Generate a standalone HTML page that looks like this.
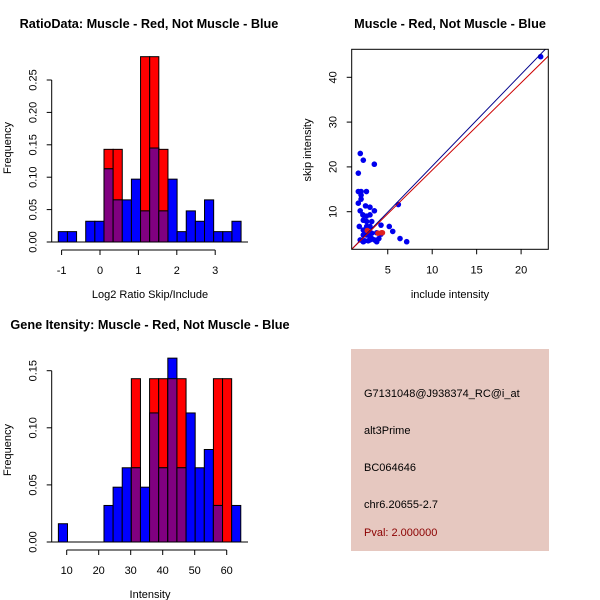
<!DOCTYPE html>
<html><head><meta charset="utf-8">
<style>
html,body{margin:0;padding:0;background:#fff;}
svg{display:block;font-family:"Liberation Sans",Arial,sans-serif;}
</style></head>
<body>
<svg id="chart" width="600" height="600" viewBox="0 0 600 600" xmlns="http://www.w3.org/2000/svg">
<rect x="0" y="0" width="600" height="600" fill="#fff"/>
<g id="info">
<rect x="351" y="349" width="198" height="202" fill="#e6c8c0"/>
<text x="364" y="397" font-size="11" fill="#000">G7131048@J938374_RC@i_at</text>
<text x="364" y="434" font-size="11" fill="#000">alt3Prime</text>
<text x="364" y="471" font-size="11" fill="#000">BC064646</text>
<text x="364" y="508" font-size="11" fill="#000">chr6.20655-2.7</text>
<text x="364" y="536" font-size="11" fill="#8b0000">Pval: 2.000000</text>
</g>
</svg>
<script>
// ---- Histogram 1 (log2 ratio) data ----
const ratioBinStart = -1.086;
const ratioBinWidth = 0.238;
const ratioBlue = [0.016,0.016,0,0.032,0.032,0.113,0.065,0.065,0.097,0.048,0.145,0.048,0.097,0.016,0.048,0.032,0.065,0.016,0.016,0.032];
const ratioRed  = [0,0,0,0,0,0.143,0.143,0,0,0.286,0.286,0.143,0,0,0,0,0,0,0,0];
const ratioXTicks = [-1,0,1,2,3];
const ratioYTicks = [0,0.05,0.10,0.15,0.20,0.25];
const ratioYLabels = ["0.00","0.05","0.10","0.15","0.20","0.25"];
// ---- Histogram 2 (intensity) data ----
const intBinStart = 7.4;
const intBinWidth = 2.85;
const intBlue = [0.016,0,0,0,0,0.032,0.048,0.065,0.065,0.048,0.113,0.065,0.161,0.065,0.113,0.065,0.081,0.032,0,0.032];
const intRed  = [0,0,0,0,0,0,0,0,0.143,0,0.143,0.143,0.143,0.143,0,0,0,0.143,0.143,0];
const intXTicks = [10,20,30,40,50,60];
const intYTicks = [0,0.05,0.10,0.15];
const intYLabels = ["0.00","0.05","0.10","0.15"];
// ---- Scatter data ----
const scatterBlueX = [1.91,2.25,3.49,1.69,1.69,2.0,2.6,2.0,2.0,1.69,1.9,2.5,3.0,3.5,2.2,2.6,3.0,2.25,2.63,3.2,1.8,2.25,2.63,3.0,2.25,2.63,3.2,3.76,4.24,1.9,2.4,3.0,3.5,3.76,2.25,2.8,3.2,4.24,5.17,5.56,6.38,7.13,6.19,22.2,4.0,3.0,2.63];
const scatterBlueY = [23.0,21.5,20.6,18.6,14.5,14.5,14.5,13.7,12.8,11.9,10.2,11.3,11.0,10.2,9.3,9.0,9.3,8.1,7.8,7.8,6.7,5.9,6.7,6.7,4.8,4.8,5.2,5.3,5.0,3.7,3.5,3.7,3.7,3.3,3.3,3.5,4.0,7.0,6.7,5.6,4.0,3.3,11.6,44.6,4.0,4.5,5.5];
const scatterRedX = [2.7,3.9,4.3,4.4];
const scatterRedY = [5.8,5.2,5.3,5.3];
const blueLine = [2.05,-0.33]; // slope, intercept
const redLine = [1.95,-0.23];
const scatXTicks = [5,10,15,20];
const scatYTicks = [10,20,30,40];

const NS = "http://www.w3.org/2000/svg";
const svg = document.getElementById('chart');
function mk(tag, attrs, parent){
  const e = document.createElementNS(NS, tag);
  for (const k in attrs) e.setAttribute(k, attrs[k]);
  (parent||svg).appendChild(e);
  return e;
}
function txt(s, x, y, size, opts, parent){
  const e = mk('text', Object.assign({x:x, y:y, 'font-size':size, 'text-anchor':'middle', fill:'#000'}, opts||{}), parent);
  e.textContent = s;
  return e;
}

function histogram(cfg){
  const g = mk('g', {});
  
  
  const X = v => cfg.x0 + (v - cfg.xv0) * cfg.xs;
  const Y = v => cfg.y0 - v * cfg.ys;
  cfg.blue.forEach((b, i) => {
    const r = cfg.red[i];
    const l = X(cfg.binStart + i*cfg.binWidth), rr = X(cfg.binStart + (i+1)*cfg.binWidth);
    if (r > 0) {
      const e = mk('rect', {x:l, y:Y(r), width:rr-l, height:Y(0)-Y(r), fill:'#ff0000', stroke:'#000', 'stroke-width':1}, g);
      
      
    }
    if (b > 0) {
      const e = mk('rect', {x:l, y:Y(b), width:rr-l, height:Y(0)-Y(b), fill:'#0000ff', stroke:'#000', 'stroke-width':1}, g);
      
      
    }
    const m = Math.min(b, r);
    if (m > 0) {
      const e = mk('rect', {x:l, y:Y(m), width:rr-l, height:Y(0)-Y(m), fill:'#800080', stroke:'#000', 'stroke-width':1}, g);
      
      
    }
  });
  mk('line', {x1:cfg.baseL, x2:cfg.baseR, y1:Y(0), y2:Y(0), stroke:'#000', 'stroke-width':1}, g);
  const ax = mk('g', {}, g);
  
  
  const xa = cfg.y0 + 8;
  mk('line', {x1:X(cfg.xTicks[0]), x2:X(cfg.xTicks[cfg.xTicks.length-1]), y1:xa, y2:xa, stroke:'#000'}, ax);
  cfg.xTicks.forEach(t => {
    mk('line', {x1:X(t), x2:X(t), y1:xa, y2:xa+5, stroke:'#000'}, ax);
    txt(String(t), X(t), xa+24, 11, {}, ax);
  });
  const ay = mk('g', {}, g);
  
  
  const yx = cfg.yAxisX;
  mk('line', {x1:yx, x2:yx, y1:Y(0), y2:Y(cfg.yTicks[cfg.yTicks.length-1]), stroke:'#000'}, ay);
  cfg.yTicks.forEach((t, i) => {
    mk('line', {x1:yx-5, x2:yx, y1:Y(t), y2:Y(t), stroke:'#000'}, ay);
    txt(cfg.yLabels[i], yx-15, Y(t), 11, {transform:`rotate(-90 ${yx-15} ${Y(t)})`}, ay);
  });
  const t1 = txt(cfg.title, cfg.titleX, cfg.titleY, 12.7, {'font-weight':'bold'}, g);
  
  
  const t2 = txt(cfg.xlab, 150, cfg.xlabY, 11, {}, g);
  
  
  const t3 = txt('Frequency', 11, cfg.ylabY, 11, {transform:`rotate(-90 11 ${cfg.ylabY})`}, g);
  
  
}

histogram({name:'ratio-histogram', x0:100, xv0:0, xs:38.4, y0:242, ys:648,
  binStart:ratioBinStart, binWidth:ratioBinWidth, blue:ratioBlue, red:ratioRed,
  baseL:50, baseR:248, xTicks:ratioXTicks, yTicks:ratioYTicks, yLabels:ratioYLabels,
  yAxisX:51.7, title:'RatioData: Muscle - Red, Not Muscle - Blue', titleX:149, titleY:28,
  xlab:'Log2 Ratio Skip/Include', xlabY:298, ylabY:148});

histogram({name:'intensity-histogram', x0:66.7, xv0:10, xs:3.2, y0:542, ys:1142,
  binStart:intBinStart, binWidth:intBinWidth, blue:intBlue, red:intRed,
  baseL:50, baseR:248, xTicks:intXTicks, yTicks:intYTicks, yLabels:intYLabels,
  yAxisX:51.7, title:'Gene Itensity: Muscle - Red, Not Muscle - Blue', titleX:150, titleY:329,
  xlab:'Intensity', xlabY:598, ylabY:450});

(function(){
  const g = mk('g', {});
  
  
  const L=351.7, R=548.3, T=49.3, B=249.3;
  const X = v => 343.3 + v*8.89;
  const Y = v => 256.5 - v*4.48;
  const cp = mk('clipPath', {id:'sc'}, g);
  mk('rect', {x:L, y:T, width:R-L, height:B-T}, cp);
  scatterBlueX.forEach((x, i) => {
    const c = mk('circle', {cx:X(x), cy:Y(scatterBlueY[i]), r:2.8, fill:'#0000ee'}, g);
    
    
  });
  scatterRedX.forEach((x, i) => {
    const c = mk('circle', {cx:X(x), cy:Y(scatterRedY[i]), r:2.8, fill:'#dd2020'}, g);
    
    
  });
  const xa=0.5, xb=24;
  const bl = mk('line', {x1:X(xa), y1:Y(blueLine[0]*xa+blueLine[1]), x2:X(xb), y2:Y(blueLine[0]*xb+blueLine[1]), stroke:'#00008b', 'stroke-width':1, 'clip-path':'url(#sc)'}, g);
  
  
  const rl = mk('line', {x1:X(xa), y1:Y(redLine[0]*xa+redLine[1]), x2:X(xb), y2:Y(redLine[0]*xb+redLine[1]), stroke:'#cc0000', 'stroke-width':1, 'clip-path':'url(#sc)'}, g);
  
  
  const box = mk('rect', {x:L, y:T, width:R-L, height:B-T, fill:'none', stroke:'#000'}, g);
  
  
  scatXTicks.forEach(t => {
    mk('line', {x1:X(t), x2:X(t), y1:B, y2:B+5, stroke:'#000'}, g);
    txt(String(t), X(t), B+24, 11, {}, g);
  });
  scatYTicks.forEach(t => {
    mk('line', {x1:L-5, x2:L, y1:Y(t), y2:Y(t), stroke:'#000'}, g);
    txt(String(t), L-15, Y(t), 11, {transform:`rotate(-90 ${L-15} ${Y(t)})`}, g);
  });
  const t1 = txt('Muscle - Red, Not Muscle - Blue', 450, 28, 12.7, {'font-weight':'bold'}, g);
  
  
  const t2 = txt('include intensity', 450, 298, 11, {}, g);
  
  
  const t3 = txt('skip intensity', 311, 150, 11, {transform:'rotate(-90 311 150)'}, g);
  
  
})();
</script>
</body></html>
